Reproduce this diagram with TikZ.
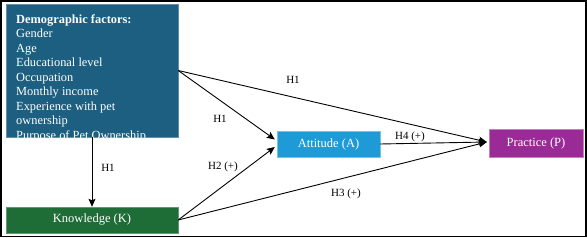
\documentclass[tikz,border=0pt]{standalone}
\usepackage{fontspec}
\setmainfont{Liberation Serif}
\usetikzlibrary{arrows.meta,positioning,calc}
\definecolor{Dc}{HTML}{1C5F80}
\definecolor{Kc}{HTML}{1E6C36}
\definecolor{Ac}{HTML}{1E9AD6}
\definecolor{Pc}{HTML}{9A2B96}
\tikzset{
  box/.style={rectangle, inner sep=0pt, text=white, font=\fontsize{12.5}{14}\selectfont},
  demotext/.style={inner sep=0pt, text=white, align=left, font=\fontsize{12.4}{14.5}\selectfont},
  link/.style={-{Stealth[length=8pt,width=7pt,inset=1.5pt]}, line width=0.9pt},
  hyp/.style={font=\fontsize{11}{12}\selectfont, inner sep=1pt},
}

\begin{document}
\begin{tikzpicture}[x=1pt,y=-1pt]
  \useasboundingbox (0,0) rectangle (587,238);
  \draw[line width=1.2pt] (1,1) rectangle (586,236.5);
  % boxes
  \node[box, fill=Dc, draw=Dc!70!white, minimum width=172pt, minimum height=133pt] (demo) at (92,70.5) {};
  \begin{scope}
    \clip (demo.south west) rectangle (demo.north east);
    \node[demotext, anchor=north west] (demotxt) at (16,14.5) {\textbf{Demographic factors:}\\
      Gender\\ Age\\ Educational level\\ Occupation\\ Monthly income\\
      Experience with pet\\ ownership\\ Purpose of Pet Ownership};
  \end{scope}
  \node[box, fill=Kc, draw=Kc!70!white, minimum width=172pt, minimum height=26pt] (know) at (92,220) {Knowledge (K)};
  \node[box, fill=Ac, draw=Ac!60!white, minimum width=103pt, minimum height=26pt] (att) at (328.5,144) {Attitude (A)};
  \node[box, fill=Pc, draw=Pc!60!white, minimum width=94pt, minimum height=28pt] (prac) at (536,143) {Practice (P)};
  % arrow ends
  \coordinate (attin1) at ($(att.west)+(-2,-4.5)$);
  \coordinate (attin2) at ($(att.west)+(-2,3)$);
  \coordinate (pracin) at ($(prac.west)+(-2,-1)$);
  % links
  \draw[link] (demo.south) -- (know.north);
  \draw[link] (demo.east) -- (attin1);
  \draw[link] (demo.east) -- (pracin);
  \draw[link] (know.east) -- (attin2);
  \draw[link] (know.east) -- (pracin);
  \draw[link] (att.east) -- (pracin);
  % labels
  \node[hyp] (h1a) at (108,167.5) {H1};
  \node[hyp] (h1b) at (220,118.5) {H1};
  \node[hyp] (h1c) at (293,79.5) {H1};
  \node[hyp] (h2) at (223,166.5) {H2 (+)};
  \node[hyp] (h3) at (346,193.5) {H3 (+)};
  \node[hyp] (h4) at (410,136.5) {H4 (+)};
\end{tikzpicture}
\end{document}
